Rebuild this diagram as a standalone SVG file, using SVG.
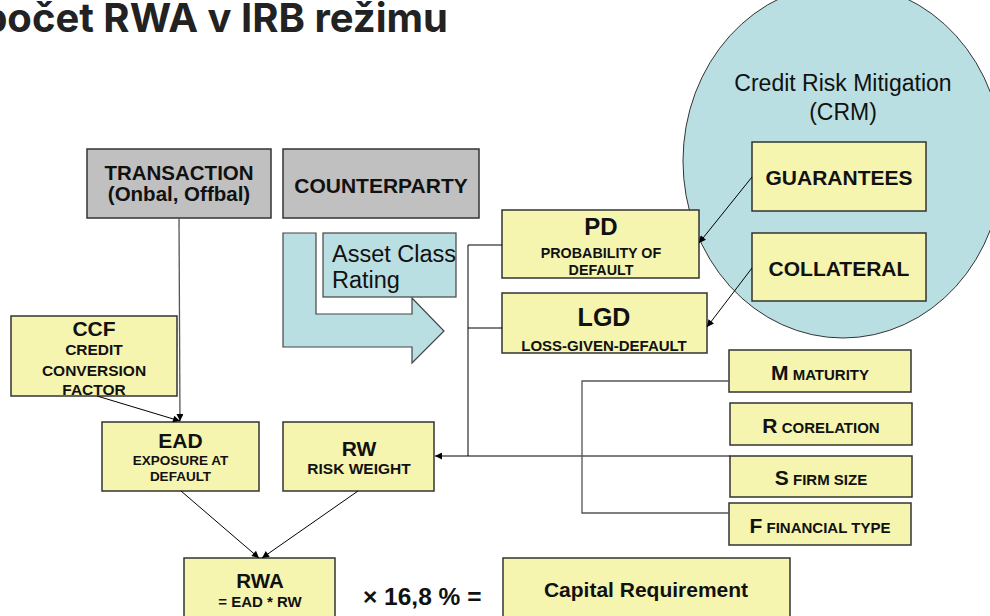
<svg xmlns="http://www.w3.org/2000/svg" width="990" height="616" viewBox="0 0 990 616">
  <defs>
    <marker id="arrow" viewBox="0 0 10 10" refX="10" refY="5" markerWidth="9" markerHeight="7" markerUnits="userSpaceOnUse" orient="auto">
      <path d="M0,0 L10,5 L0,10 Z" fill="#000"/>
    </marker>
    <style>
      .box { fill: #f5f5b0; stroke: #333; stroke-width: 1.5; }
      .grey { fill: #c0c0c0; stroke: #333; stroke-width: 1.5; }
      .teal { fill: #b9dfe2; stroke: #444; stroke-width: 1.2; }
      text { font-family: "Liberation Sans", Arial, sans-serif; fill: #111; }
      .b { font-weight: bold; text-anchor: middle; }
      .big { font-size: 21px; }
      .sm { font-size: 15px; }
      .xs { font-size: 13.5px; }
      .line { fill: none; stroke: #000; stroke-width: 1; }
      .gline { fill: none; stroke: #555; stroke-width: 1.3; }
    </style>
  </defs>

  <rect width="990" height="616" fill="#fff"/>

  <!-- heading, running off the left edge -->
  <text x="448" y="32" text-anchor="end" style="font-family: Inter, 'Noto Sans', sans-serif; font-weight: 700; font-size: 40px; fill: #222;">počet RWA v IRB režimu</text>

  <!-- credit risk mitigation area -->
  <g id="crm">
    <ellipse cx="843" cy="161" rx="160" ry="177" fill="#b9dfe2" stroke="#333" stroke-width="1"/>
    <text x="843" y="91" text-anchor="middle" style="font-size: 23px;">Credit Risk Mitigation</text>
    <text x="843" y="120" text-anchor="middle" style="font-size: 23px;">(CRM)</text>
  </g>

  <g id="guarantees">
    <rect class="box" x="752" y="142" width="174" height="69"/>
    <text class="b big" x="839" y="185">GUARANTEES</text>
  </g>
  <g id="collateral">
    <rect class="box" x="752" y="233" width="174" height="68"/>
    <text class="b big" x="839" y="276">COLLATERAL</text>
  </g>

  <g id="transaction">
    <rect class="grey" x="87" y="149" width="184" height="69"/>
    <text class="b" x="179" y="180" style="font-size: 20.5px;">TRANSACTION</text>
    <text class="b" x="179" y="201" style="font-size: 20.5px;">(Onbal, Offbal)</text>
  </g>

  <g id="counterparty">
    <rect class="grey" x="283" y="149" width="196" height="69"/>
    <text class="b big" x="381" y="193">COUNTERPARTY</text>
  </g>

  <!-- asset class / rating flow arrow -->
  <g id="asset-class">
    <polygon class="teal" points="283,233 316,233 316,314 412,314 412,298 444,331 412,363 412,347 283,347"/>
    <rect class="teal" x="323" y="233" width="133" height="64"/>
    <text x="332" y="262" style="font-size: 23.5px;">Asset Class</text>
    <text x="332" y="288" style="font-size: 23.5px;">Rating</text>
  </g>

  <g id="pd">
    <rect class="box" x="502" y="210" width="197" height="68"/>
    <text class="b" x="601" y="235" style="font-size: 24px;">PD</text>
    <text class="b" x="601" y="257.5" style="font-size: 14.3px;">PROBABILITY OF</text>
    <text class="b" x="601" y="275" style="font-size: 14.3px;">DEFAULT</text>
  </g>

  <g id="lgd">
    <rect class="box" x="502" y="293" width="205" height="60"/>
    <text class="b" x="604" y="326" style="font-size: 25px;">LGD</text>
    <text class="b" x="604" y="351" style="font-size: 15px;">LOSS-GIVEN-DEFAULT</text>
  </g>

  <g id="ccf">
    <rect class="box" x="11" y="316" width="166" height="80"/>
    <text class="b big" x="94" y="336">CCF</text>
    <text class="b" x="94" y="355" style="font-size: 15.5px;">CREDIT</text>
    <text class="b" x="94" y="375.5" style="font-size: 15.5px;">CONVERSION</text>
    <text class="b" x="94" y="395" style="font-size: 15.5px;">FACTOR</text>
  </g>

  <g id="ead">
    <rect class="box" x="102" y="422" width="157" height="69"/>
    <text class="b big" x="180.5" y="447.5">EAD</text>
    <text class="b xs" x="180.5" y="465">EXPOSURE AT</text>
    <text class="b xs" x="180.5" y="480.5">DEFAULT</text>
  </g>

  <g id="rw">
    <rect class="box" x="283" y="422" width="151" height="69"/>
    <text class="b big" x="359" y="455.5">RW</text>
    <text class="b" x="359" y="474" style="font-size: 15.5px;">RISK WEIGHT</text>
  </g>

  <g id="maturity">
    <rect class="box" x="729" y="350" width="182" height="42"/>
    <text class="b" x="820" y="380"><tspan style="font-size: 21px;">M</tspan><tspan class="sm"> MATURITY</tspan></text>
  </g>
  <g id="correlation">
    <rect class="box" x="730" y="403" width="182" height="42"/>
    <text class="b" x="821" y="433"><tspan style="font-size: 21px;">R</tspan><tspan class="sm"> CORELATION</tspan></text>
  </g>
  <g id="firm-size">
    <rect class="box" x="730" y="456" width="182" height="41"/>
    <text class="b" x="821" y="485"><tspan style="font-size: 21px;">S</tspan><tspan class="sm"> FIRM SIZE</tspan></text>
  </g>
  <g id="financial-type">
    <rect class="box" x="729" y="503" width="182" height="42"/>
    <text class="b" x="820" y="533"><tspan style="font-size: 21px;">F</tspan><tspan class="sm"> FINANCIAL TYPE</tspan></text>
  </g>

  <g id="rwa">
    <rect class="box" x="184" y="558" width="151" height="70"/>
    <text class="b" x="260" y="588" style="font-size: 20.5px;">RWA</text>
    <text class="b sm" x="260" y="607">= EAD * RW</text>
  </g>

  <text x="363" y="605" style="font-weight: bold; font-size: 24.5px;">× 16,8 % =</text>

  <g id="capital-requirement">
    <rect class="box" x="503" y="558" width="287" height="70"/>
    <text class="b big" x="646" y="597">Capital Requirement</text>
  </g>

  <!-- connectors -->
  <g id="connectors">
    <line class="gline" x1="179" y1="218" x2="180" y2="421" marker-end="url(#arrow)"/>
    <line class="line" x1="97" y1="396" x2="180" y2="421" marker-end="url(#arrow)"/>
    <line class="line" x1="752" y1="177" x2="699" y2="243" marker-end="url(#arrow)"/>
    <line class="line" x1="752" y1="268" x2="707" y2="327" marker-end="url(#arrow)"/>
    <path class="line" d="M502,245 H468 V456 M502,328 H468"/>
    <line class="line" x1="730" y1="456" x2="435" y2="456" marker-end="url(#arrow)"/>
    <path class="gline" d="M729,381 H582 V513 H729"/>
    <line class="line" x1="181" y1="491" x2="259" y2="558" marker-end="url(#arrow)"/>
    <line class="line" x1="358" y1="491" x2="262" y2="558" marker-end="url(#arrow)"/>
  </g>
</svg>
